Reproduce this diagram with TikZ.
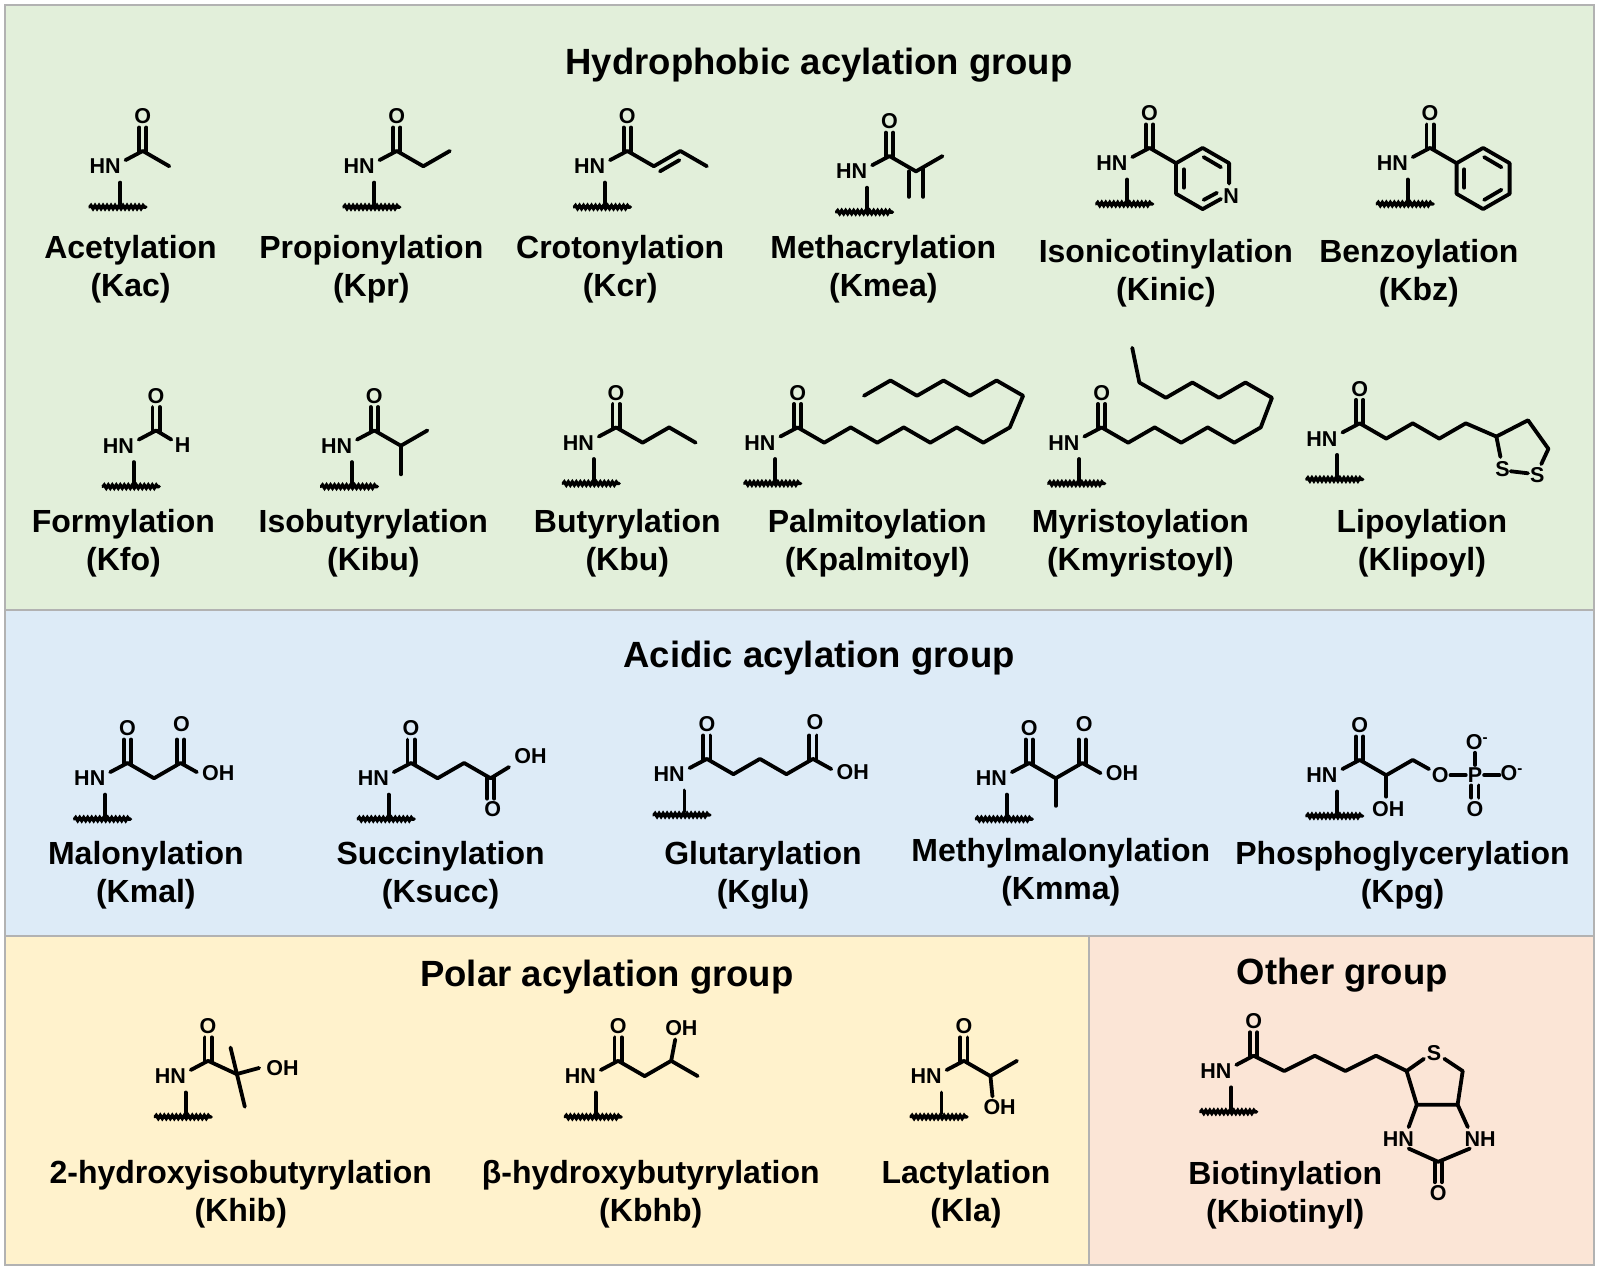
\documentclass[tikz,border=0pt]{standalone}
\usepackage{fontspec}
\setmainfont{Liberation Sans}
\usetikzlibrary{decorations.pathmorphing}
\definecolor{pgreen}{HTML}{E2EFDA}
\definecolor{pblue}{HTML}{DDEBF7}
\definecolor{pyellow}{HTML}{FFF2CC}
\definecolor{ppink}{HTML}{FBE5D6}
\begin{document}
\begin{tikzpicture}[x=1.02pt,y=-1.02pt,
 bond/.style={line width=3.8pt,line cap=round,line join=round},
 wavy/.style={line width=3.4pt,line cap=round,decorate,decoration={snake,amplitude=1.5pt,segment length=4pt}},
 atom/.style={font=\fontsize{21.5}{22}\selectfont\bfseries,inner sep=0pt},
 title/.style={font=\fontsize{36.5}{40}\selectfont\bfseries},
 lab/.style={font=\fontsize{32}{38}\selectfont\bfseries,align=center},
 panel/.style={draw=black!30,line width=2pt}]
\newcommand\amide[3]{\begin{scope}[shift={(#1,#2)}]
 \node[atom] at (-37,15) {HN};
 \draw[bond] (-22,31) -- (-22,52);
 \draw[wavy] (-52,55) -- (3,55);
 \draw[bond] (-17,9) -- (0,0);
 \draw[bond] (-3.5,1) -- (-3.5,-23); \draw[bond] (3.5,1) -- (3.5,-23);
 \node[atom] at (0,-34) {O};
 #3
\end{scope}}
\newcommand\hexa[1]{%
 \draw[bond] (0,-30)--(26,-15)--(26,15)--(0,30)--(-26,15)--(-26,-15)--cycle;
 \ifnum#1=1 \draw[bond] (1,-21)--(18,-11); \draw[bond] (18,11)--(1,21); \draw[bond] (-18.5,-9)--(-18.5,9);\fi}
\useasboundingbox (0,0) rectangle (1568.6,1245.1);
\fill[pgreen] (5,5) rectangle (1563,598);
\fill[pblue] (5,598) rectangle (1563,918);
\fill[pyellow] (5,918) rectangle (1068,1240);
\fill[ppink] (1068,918) rectangle (1563,1240);
\draw[panel] (5,5) rectangle (1563,1240);
\draw[panel] (5,598) -- (1563,598); \draw[panel] (5,918) -- (1563,918);
\draw[panel] (1068,918) -- (1068,1240);
\node[title] (t1) at (803,64) {Hydrophobic acylation group};
\node[title] (t2) at (803,645) {Acidic acylation group};
\node[title] (t3) at (595,958) {Polar acylation group};
\node[title] (t4) at (1316,956) {Other group};
% Row 1
\amide{140}{148}{\draw[bond] (0,0)--(26,15);}
\amide{389}{148}{\draw[bond] (0,0)--(26,15)--(52,0);}
\amide{615}{148}{\draw[bond] (0,0)--(26,15)--(52,0)--(78,15); \draw[bond] (32,20)--(51,9);}
\amide{872}{153}{\draw[bond] (0,0)--(26,15)--(52,0); \draw[bond] (19,15)--(19,40); \draw[bond] (33,12)--(33,40);}
\amide{1127}{145}{\draw[bond] (0,0)--(26,15);
 \begin{scope}[shift={(52,30)}]
 \draw[bond] (26,5)--(26,-15)--(0,-30)--(-26,-15)--(-26,15)--(0,30)--(18,20);
 \node[atom] at (28,17) {N};
 \draw[bond] (1,-21)--(18,-11); \draw[bond] (-18.5,-9)--(-18.5,9); \draw[bond] (1,21)--(14,14);
 \end{scope}}
\amide{1402}{145}{\draw[bond] (0,0)--(26,15); \begin{scope}[shift={(52,30)}]\hexa{1}\end{scope}}
\node[lab] at (128,264) {Acetylation\\(Kac)};
\node[lab] at (364,264) {Propionylation\\(Kpr)};
\node[lab] at (608,264) {Crotonylation\\(Kcr)};
\node[lab] at (866,264) {Methacrylation\\(Kmea)};
\node[lab] at (1143,268) {Isonicotinylation\\(Kinic)};
\node[lab] at (1391,268) {Benzoylation\\(Kbz)};
% Row 2
\amide{153}{422}{\draw[bond] (0,0)--(15,9); \node[atom] at (26,14) {H};}
\amide{367}{422}{\draw[bond] (0,0)--(26,15)--(52,0); \draw[bond] (26,15)--(26,43);}
\amide{604}{419}{\draw[bond] (0,0)--(26,15)--(52,0)--(78,15);}
\amide{782}{419}{\draw[bond] (0,0)--(26,15)--(52,0)--(78,15)--(104,0)--(130,15)--(156,0)--(182,15)--(208,0)--(221,-31)--(195,-46)--(169,-31)--(143,-46)--(117,-31)--(91,-46)--(65,-31);}
\amide{1080}{419}{\draw[bond] (0,0)--(26,15)--(52,0)--(78,15)--(104,0)--(130,15)--(156,0)--(167,-29)--(141,-44)--(115,-29)--(89,-44)--(63,-29)--(37,-44)--(30,-78);}
\amide{1333}{415}{\draw[bond] (0,0)--(26,15)--(52,0)--(78,15)--(104,0)--(134,13)--(165,-3)--(185,25)--(178,40);
 \draw[bond] (134,13)--(138,33);
 \node[atom] at (140,45) {S}; \node[atom] at (174,51) {S};
 \draw[bond] (148,47)--(165,49);}
\node[lab] at (121,533) {Formylation\\(Kfo)};
\node[lab] at (366,533) {Isobutyrylation\\(Kibu)};
\node[lab] at (615,533) {Butyrylation\\(Kbu)};
\node[lab] at (860,533) {Palmitoylation\\(Kpalmitoyl)};
\node[lab] at (1118,533) {Myristoylation\\(Kmyristoyl)};
\node[lab] at (1394,533) {Lipoylation\\(Klipoyl)};
% Acidic
\amide{125}{748}{\draw[bond] (0,0)--(26,15)--(52,0)--(68,9);
 \draw[bond] (48.5,1)--(48.5,-23); \draw[bond] (55.5,1)--(55.5,-23);
 \node[atom] at (53,-38) {O}; \node[atom] at (89,10) {OH};}
\amide{403}{748}{\draw[bond] (0,0)--(26,15)--(52,0)--(78,15)--(96,4);
 \draw[bond] (74.5,14)--(74.5,35); \draw[bond] (81.5,14)--(81.5,35);
 \node[atom] at (80,45) {O}; \node[atom] at (117,-7) {OH};}
\amide{693}{744}{\draw[bond] (0,0)--(26,15)--(52,0)--(78,15)--(104,0)--(122,10);
 \draw[bond] (100.5,1)--(100.5,-23); \draw[bond] (107.5,1)--(107.5,-23);
 \node[atom] at (106,-36) {O}; \node[atom] at (143,13) {OH};}
\amide{1009}{748}{\draw[bond] (0,0)--(26,15)--(52,0)--(70,10); \draw[bond] (26,15)--(26,42);
 \draw[bond] (48.5,1)--(48.5,-23); \draw[bond] (55.5,1)--(55.5,-23);
 \node[atom] at (54,-38) {O}; \node[atom] at (91,10) {OH};}
\amide{1333}{745}{\draw[bond] (0,0)--(26,15)--(52,0)--(68,9); \draw[bond] (26,15)--(26,36);
 \node[atom] at (28,48) {OH}; \node[atom] at (79,15) {O};
 \draw[bond] (89,15)--(104,15); \node[atom] at (113,15) {P};
 \draw[bond] (122,15)--(137,15); \node[atom] at (149,13) {O\textsuperscript{-}};
 \draw[bond] (113,5)--(113,-7); \node[atom] at (115,-17) {O\textsuperscript{-}};
 \draw[bond] (109.5,25)--(109.5,37); \draw[bond] (116.5,25)--(116.5,37);
 \node[atom] at (113,48) {O};}
\node[lab] at (143,858) {Malonylation\\(Kmal)};
\node[lab] at (432,858) {Succinylation\\(Ksucc)};
\node[lab] at (748,858) {Glutarylation\\(Kglu)};
\node[lab] at (1040,855) {Methylmalonylation\\(Kmma)};
\node[lab] at (1375,858) {Phosphoglycerylation\\(Kpg)};
% Polar
\amide{204}{1040}{\draw[bond] (0,0)--(28,13)--(50,7); \draw[bond] (22,-13)--(36,45);
 \node[atom] at (73,7) {OH};}
\amide{606}{1040}{\draw[bond] (0,0)--(26,15)--(52,0)--(78,15); \draw[bond] (52,0)--(56,-21);
 \node[atom] at (62,-32) {OH};}
\amide{945}{1040}{\draw[bond] (0,0)--(26,15)--(52,0); \draw[bond] (26,15)--(28,35);
 \node[atom] at (35,45) {OH};}
\node[lab] at (236,1171) {2-hydroxyisobutyrylation\\(Khib)};
\node[lab] at (638,1171) {β-hydroxybutyrylation\\(Kbhb)};
\node[lab] at (947,1171) {Lactylation\\(Kla)};
% Other
\amide{1229}{1035}{\draw[bond] (0,0)--(30,15)--(60,0)--(90,15)--(120,0)--(150,15)--(167,3);
 \node[atom] at (177,-3) {S};
 \draw[bond] (187,3)--(205,15)--(200,48)--(160,48)--(150,15);
 \draw[bond] (160,48)--(152,70); \draw[bond] (200,48)--(210,70);
 \node[atom] at (142,82) {HN}; \node[atom] at (222,82) {NH};
 \draw[bond] (152,91)--(181,104)--(212,91);
 \draw[bond] (177.5,104)--(177.5,124); \draw[bond] (184.5,104)--(184.5,124);
 \node[atom] at (181,135) {O};}
\node[lab] at (1260,1172) {Biotinylation\\(Kbiotinyl)};
\end{tikzpicture}
\end{document}
